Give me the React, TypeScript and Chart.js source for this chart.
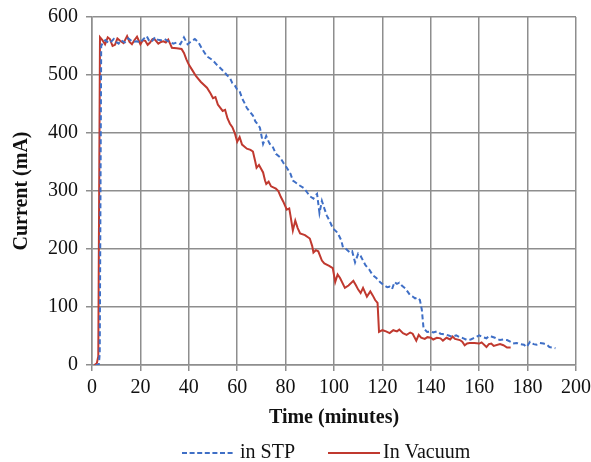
import React, { useEffect, useRef } from "react";
import { Chart, registerables } from "chart.js";

Chart.register(...registerables);

// STP (blue dashed) — time in minutes, current in mA
const stpTime = [1.5, 2.8, 3.2, 3.8, 4.5, 5.5, 7, 8, 9, 10, 11, 12, 13.5, 15, 16, 17, 18.5, 20, 21, 22.6, 23.5, 24.5, 26, 27, 28.5, 30, 31.5, 33.6, 35, 36.5, 38, 39.5, 41, 42.5, 44, 45.5, 47.5, 49, 50, 51.5, 53, 54.5, 55.7, 57, 58, 59, 60, 61, 62, 63, 64, 65, 66.5, 67.5, 68.5, 69.4, 70.7, 72, 73, 73.5, 74.5, 76, 77.7, 79, 80.5, 82, 83, 84, 86, 87.5, 89, 90, 91.5, 92.5, 93, 94, 95, 96, 97, 98, 99.6, 101, 101.7, 103, 103.7, 105, 106.6, 107.5, 108.7, 110, 111, 112, 113, 114.5, 116, 117.5, 119, 120.5, 122, 123, 124, 125, 126, 127, 128, 129.5, 130.5, 131.5, 132.5, 133.5, 134.5, 135.5, 136.3, 137, 138.5, 140, 141, 142.5, 144, 145.5, 146.6, 148, 149, 150.5, 152, 153.5, 155, 156.5, 157.5, 159, 160, 161.5, 163, 164, 165, 166.5, 168.6, 170, 171.5, 173, 174, 175.5, 177, 178.5, 179.6, 181, 182.5, 183.7, 185, 186.6, 188, 189, 190.5, 191.5];
const stpCurrent = [0, 0, 20, 550, 556, 560, 555, 558, 562, 557, 554, 560, 556, 563, 560, 557, 558, 556, 561, 567, 560, 557, 565, 561, 560, 562, 558, 554, 556, 553, 565, 553, 558, 562, 556, 545, 532, 528, 525, 518, 512, 506, 500, 495, 486, 482, 475, 472, 460, 452, 443, 438, 430, 420, 415, 409, 381, 395, 385, 381, 378, 364, 358, 349, 340, 330, 318, 315, 309, 305, 297, 291, 287, 293, 295, 262, 283, 270, 258, 250, 235, 230, 226, 215, 203, 200, 194, 196, 177, 192, 188, 180, 172, 165, 155, 150, 143, 138, 134, 135, 131, 143, 140, 142, 137, 132, 126, 120, 118, 115, 116, 112, 95, 63, 57, 58, 56, 58, 54, 53, 52, 50, 49, 51, 48, 46, 43, 44, 46, 49, 51, 48, 46, 50, 49, 47, 43, 44, 43, 40, 37, 38, 36, 35, 31, 40, 36, 35, 38, 37, 35, 31, 30, 29];

// Vacuum (red solid)
const vacTime = [1.0, 2.0, 2.6, 3.3, 4.3, 5.4, 6.5, 7.4, 8.5, 9.5, 10.5, 11.6, 13, 14.5, 15.5, 16.5, 17.5, 18.6, 20, 21, 22, 23, 24, 25, 26, 27.4, 28.5, 29.5, 30.5, 31.5, 32.5, 33, 35, 37, 38, 39, 40, 41.5, 43, 45, 47.5, 49, 50, 51, 52, 54, 55, 56, 57, 58, 59, 60, 61, 62, 64, 65.5, 66.5, 67.5, 68, 69, 70.7, 71.5, 72, 73, 74, 76, 77, 78, 79, 80.5, 81.5, 82, 83, 84, 85, 86, 88, 90, 91, 91.5, 92.5, 93.5, 95, 96, 98, 99.5, 100.5, 101.5, 102.5, 104.5, 106, 108, 109, 110, 111, 112, 113.6, 115, 116, 117, 118, 118.6, 120, 121.5, 123, 124.5, 126, 127, 128.5, 130, 131.5, 132.5, 134, 135, 136, 137.5, 138.6, 140, 141, 142.5, 144, 145, 146.5, 148, 149, 150, 152, 153, 154, 155, 156, 158, 160, 161, 163, 164, 165, 166, 168.6, 170, 171.5, 173];
const vacCurrent = [0, 3, 15, 565, 560, 553, 565, 562, 550, 552, 563, 559, 555, 567, 557, 553, 560, 566, 553, 560, 559, 552, 556, 562, 561, 554, 557, 558, 556, 561, 552, 547, 546, 545, 538, 527, 518, 508, 498, 488, 478, 468, 460, 462, 449, 438, 440, 425, 416, 410, 400, 385, 393, 380, 373, 371, 368, 350, 340, 345, 332, 318, 312, 316, 308, 304, 300, 290, 282, 268, 270, 258, 232, 249, 236, 227, 224, 218, 205, 194, 198, 196, 180, 175, 171, 167, 143, 156, 150, 133, 137, 145, 138, 130, 124, 133, 118, 127, 120, 112, 107, 57, 60, 58, 55, 60, 58, 61, 55, 52, 56, 54, 42, 52, 47, 45, 48, 47, 44, 47, 46, 42, 47, 44, 49, 45, 43, 40, 34, 37, 38, 38, 37, 39, 31, 36, 37, 33, 36, 34, 30, 30];

const seriesNames = ["in STP", "In Vacuum"];
const seriesColors = ["#3f6fc6", "#c0392f"];
const xTitle = "Time (minutes)";
const yTitle = "Current (mA)";

const FONT = "'Liberation Serif', 'Times New Roman', serif";
const GRID = "#8e8e8e";

const legendPlugin = {
  id: "customLegend",
  afterDraw(chart: any) {
    const ctx = chart.ctx;
    const ca = chart.chartArea;
    const cx = (ca.left + ca.right) / 2;
    const y = chart.height - 9;
    ctx.save();
    ctx.font = `20px ${FONT}`;
    ctx.textBaseline = "middle";
    ctx.textAlign = "left";
    // STP
    ctx.strokeStyle = seriesColors[0];
    ctx.lineWidth = 2;
    ctx.setLineDash([5, 2.6]);
    ctx.beginPath();
    ctx.moveTo(cx - 152, y);
    ctx.lineTo(cx - 99, y);
    ctx.stroke();
    ctx.fillStyle = "#111";
    ctx.fillText(seriesNames[0], cx - 94, y);
    // Vacuum
    ctx.setLineDash([]);
    ctx.strokeStyle = seriesColors[1];
    ctx.beginPath();
    ctx.moveTo(cx - 6, y);
    ctx.lineTo(cx + 46, y);
    ctx.stroke();
    ctx.fillText(seriesNames[1], cx + 49, y);
    ctx.restore();
  },
};

export default function App() {
  const ref = useRef<HTMLCanvasElement>(null);
  useEffect(() => {
    if (!ref.current) return;
    const mk = (t: number[], v: number[]) => t.map((x, i) => ({ x, y: v[i] }));
    const chart = new Chart(ref.current, {
      type: "line",
      data: {
        datasets: [
          {
            label: seriesNames[0],
            data: mk(stpTime, stpCurrent),
            borderColor: seriesColors[0],
            borderWidth: 2,
            borderDash: [5, 3],
            pointRadius: 0,
            tension: 0,
            fill: false,
          },
          {
            label: seriesNames[1],
            data: mk(vacTime, vacCurrent),
            borderColor: seriesColors[1],
            borderWidth: 2,
            pointRadius: 0,
            tension: 0,
            fill: false,
          },
        ],
      },
      options: {
        responsive: false,
        animation: false,
        events: [],
        layout: { autoPadding: false, padding: { left: 0, top: 17, right: 15, bottom: 28 } },
        plugins: { legend: { display: false }, tooltip: { enabled: false } },
        scales: {
          x: {
            type: "linear",
            min: 0,
            max: 200,
            afterFit: (s: any) => { s.height = 69; s.paddingLeft = 0; s.paddingRight = 0; },
            ticks: { stepSize: 20, color: "#111", font: { family: FONT, size: 20 }, padding: 5, maxRotation: 0 },
            grid: { color: GRID, lineWidth: 1.5, tickLength: 6 },
            border: { color: GRID, width: 1.5 },
            title: { display: true, text: xTitle, color: "#111", font: { family: FONT, size: 20, weight: "bold" }, padding: { top: 4, bottom: 4 } },
          },
          y: {
            type: "linear",
            min: 0,
            max: 600,
            afterFit: (s: any) => { s.width = 92; s.paddingTop = 0; s.paddingBottom = 0; },
            ticks: { stepSize: 100, color: "#111", font: { family: FONT, size: 20 }, padding: 8 },
            grid: { color: GRID, lineWidth: 1.5, tickLength: 6 },
            border: { color: GRID, width: 1.5 },
            title: { display: true, text: yTitle, color: "#111", font: { family: FONT, size: 20, weight: "bold" }, padding: { top: 10, bottom: 4 } },
          },
        },
      },
      plugins: [legendPlugin],
    });
    return () => chart.destroy();
  }, []);
  return (
    <div style={{ position: "absolute", left: 0, top: 0, width: 591, height: 462, background: "#fff" }}>
      <canvas ref={ref} width={591} height={462} />
    </div>
  );
}
